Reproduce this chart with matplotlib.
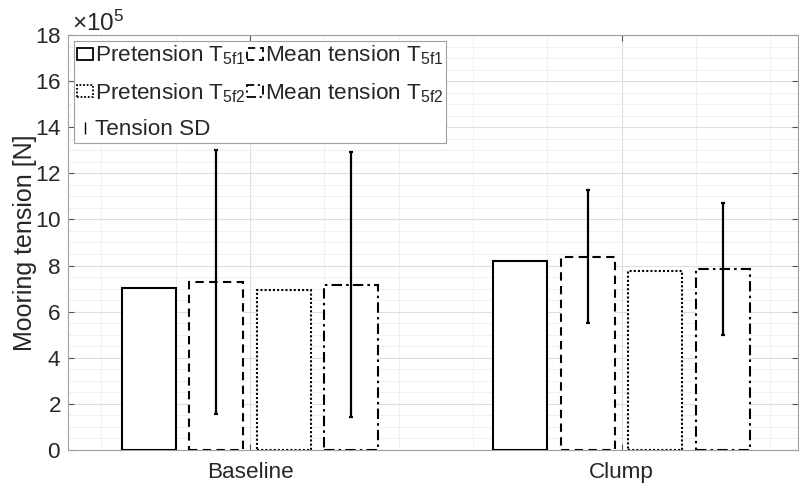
import numpy as np
import matplotlib
matplotlib.use("Agg")
import matplotlib.pyplot as plt
from matplotlib.ticker import MultipleLocator, ScalarFormatter
from matplotlib.patches import Rectangle
from matplotlib.legend_handler import HandlerErrorbar

plt.rcParams['font.family'] = ['Liberation Sans', 'DejaVu Sans']
plt.rcParams['mathtext.fontset'] = 'custom'
plt.rcParams['mathtext.rm'] = 'Liberation Sans'
plt.rcParams['mathtext.it'] = 'Liberation Sans'

categories = ['Baseline', 'Clump']
pretension_5f1 = [7.02e5, 8.20e5]
mean_5f1 = [7.30e5, 8.38e5]
pretension_5f2 = [6.92e5, 7.78e5]
mean_5f2 = [7.17e5, 7.85e5]
sd_5f1 = [5.72e5, 2.88e5]
sd_5f2 = [5.75e5, 2.85e5]

labels = [r'Pretension T$_\mathregular{5f1}$', r'Mean tension T$_\mathregular{5f1}$',
          r'Pretension T$_\mathregular{5f2}$', r'Mean tension T$_\mathregular{5f2}$',
          'Tension SD']

FS = 16.2

fig = plt.figure(figsize=(7.99, 4.86), dpi=100)
ax = fig.add_axes([0.0851, 0.0741, 0.9137, 0.8539])

x = np.arange(1, len(categories) + 1)
step = 0.727 / 4
width = 0.8 * step
offsets = (np.arange(4) - 1.5) * step
series = [pretension_5f1, mean_5f1, pretension_5f2, mean_5f2]
styles = ['-', (0, (4, 2.6)), (0, (1, 1)), (0, (5, 2, 1.2, 2))]
handles = []
for s, ls, off in zip(series, styles, offsets):
    ax.bar(x + off, s, width=width, facecolor='white', edgecolor='black',
           linewidth=1.5, linestyle=ls, zorder=3)
    handles.append(Rectangle((0, 0), 1, 1, facecolor='white', edgecolor='black',
                             linewidth=1.3, linestyle=ls))

ax.errorbar(x + offsets[1], mean_5f1, yerr=sd_5f1, fmt='none', ecolor='black',
            elinewidth=1.6, capsize=1.5, capthick=1.6, zorder=4)
ax.errorbar(x + offsets[3], mean_5f2, yerr=sd_5f2, fmt='none', ecolor='black',
            elinewidth=1.6, capsize=1.5, capthick=1.6, zorder=4)

ax.set_xlim(0.51, 2.475)
ax.set_ylim(0, 18e5)
ax.set_xticks(x)
ax.set_xticklabels(categories)
ax.yaxis.set_major_locator(MultipleLocator(2e5))
ax.yaxis.set_minor_locator(MultipleLocator(0.5e5))
ax.xaxis.set_minor_locator(MultipleLocator(0.2))
fmt = ScalarFormatter(useMathText=True)
fmt.set_powerlimits((5, 5))
ax.yaxis.set_major_formatter(fmt)
ot = ax.yaxis.get_offset_text()
ot.set_fontsize(17.5)
ot.set_color('#262626')
ot.set_x(0.006)

ax.grid(True, which='major', color='#dedede', linewidth=0.8, zorder=0)
ax.grid(True, which='minor', color='#f0f0f0', linewidth=0.7, zorder=0)
ax.set_axisbelow(True)

ax.tick_params(which='major', direction='in', length=4, width=0.8,
               top=True, right=True, labelsize=FS, labelcolor='#262626',
               color='#555555')
ax.tick_params(axis='x', which='major', pad=9)
ax.tick_params(axis='y', which='major', pad=5)
ax.tick_params(which='minor', length=0)
for sp in ax.spines.values():
    sp.set_color('#a0a0a0')
    sp.set_linewidth(0.8)

ax.set_ylabel('Mooring tension [N]', fontsize=18, color='#262626', labelpad=-2)

eh = ax.errorbar([], [], yerr=[], fmt='none', ecolor='black', elinewidth=1.0,
                 capsize=2, capthick=1.0)
leg_handles = [handles[0], handles[2], eh, handles[1], handles[3]]
leg_labels = [labels[0], labels[2], labels[4], labels[1], labels[3]]
leg = ax.legend(leg_handles, leg_labels, loc='upper left', ncol=2,
                fontsize=FS, handlelength=0.7, handleheight=0.45,
                handletextpad=0.1, columnspacing=0.05, labelspacing=0.62,
                borderaxespad=0.25, borderpad=0.14, frameon=True, fancybox=False,
                framealpha=1,
                handler_map={type(eh): HandlerErrorbar(xerr_size=0.3, yerr_size=0.28)})
leg.get_frame().set_edgecolor('#a0a0a0')
leg.get_frame().set_linewidth(0.8)
for t in leg.get_texts():
    t.set_color('#262626')

fig.savefig('out.png', dpi=100)
